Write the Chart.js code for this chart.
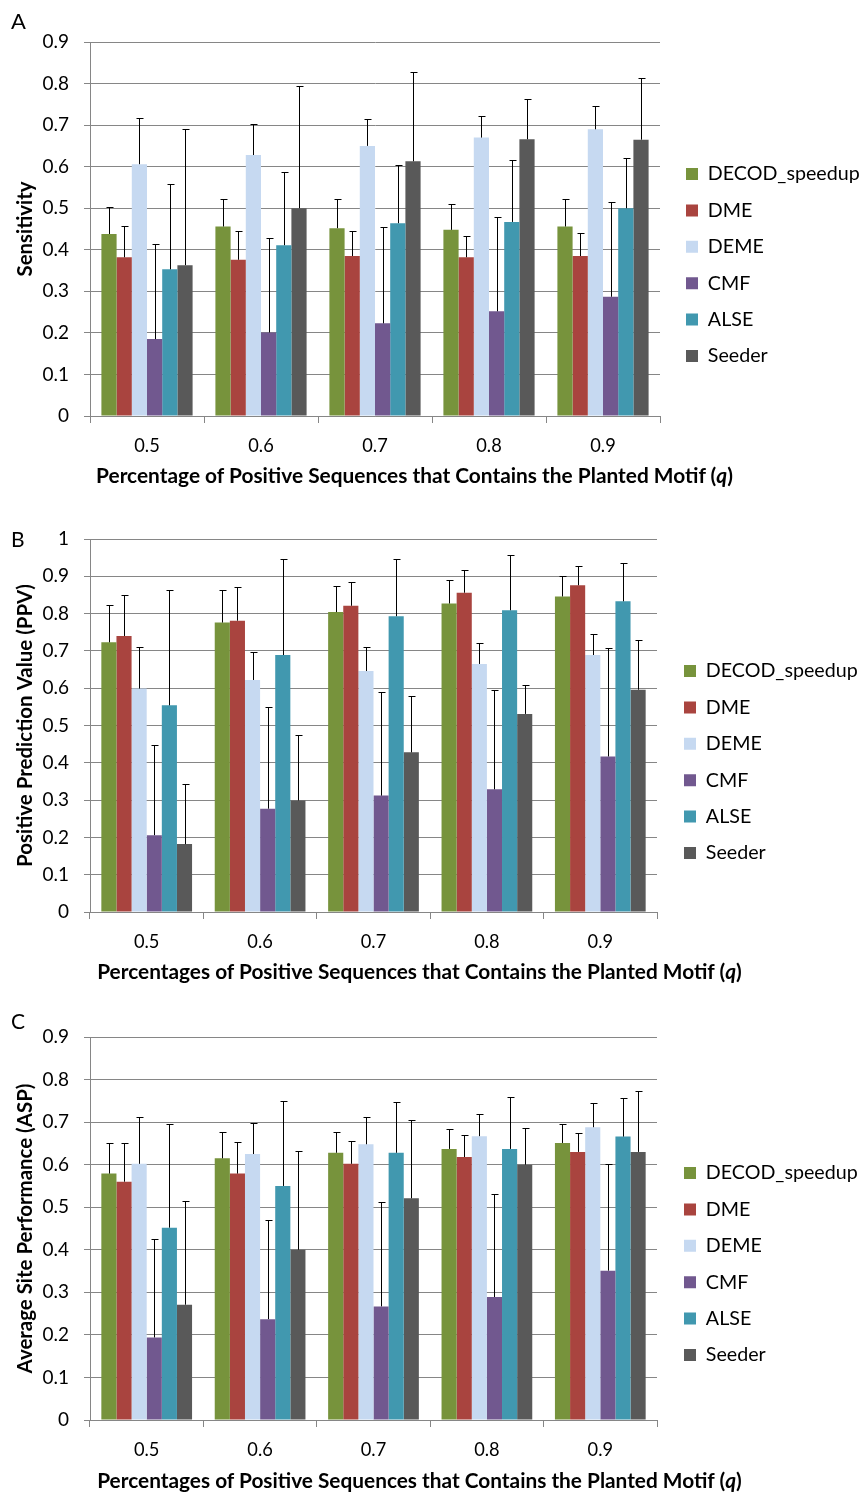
<!DOCTYPE html>
<html>
<head>
<meta charset="utf-8">
<script src="https://cdn.jsdelivr.net/npm/chart.js@4.4.1/dist/chart.umd.min.js"></script>
<style>
html,body{margin:0;padding:0;background:#fff;}
body{width:863px;height:1494px;position:relative;overflow:hidden;font-family:Lato,sans-serif;color:#000;}
.panel{position:absolute;left:0;width:863px;}
.panel canvas{display:block;}
.lbl{position:absolute;white-space:nowrap;line-height:1.2;width:max-content;font-family:Lato,sans-serif;color:#000;}
</style>
</head>
<body>
<div class="panel" style="top:0px;height:500px"><canvas id="cA" width="863" height="500" style="width:863px;height:500px"></canvas></div>
<div class="panel" style="top:500px;height:495px"><canvas id="cB" width="863" height="495" style="width:863px;height:495px"></canvas></div>
<div class="panel" style="top:995px;height:499px"><canvas id="cC" width="863" height="499" style="width:863px;height:499px"></canvas></div>
<script>
// ---------------- DATA ----------------
const categories = ['0.5', '0.6', '0.7', '0.8', '0.9'];
const seriesNames = ['DECOD_speedup', 'DME', 'DEME', 'CMF', 'ALSE', 'Seeder'];

// Panel A: Sensitivity (rows = series, columns = categories)
const sensitivityValues = [
  [0.438, 0.456, 0.452, 0.448, 0.456],
  [0.382, 0.376, 0.385, 0.382, 0.385],
  [0.606, 0.628, 0.650, 0.670, 0.690],
  [0.185, 0.201, 0.223, 0.252, 0.287],
  [0.353, 0.411, 0.464, 0.467, 0.500],
  [0.363, 0.500, 0.613, 0.666, 0.665]
];
const sensitivityErrors = [
  [0.066, 0.067, 0.069, 0.062, 0.066],
  [0.076, 0.068, 0.061, 0.052, 0.055],
  [0.111, 0.074, 0.064, 0.053, 0.057],
  [0.229, 0.227, 0.232, 0.227, 0.229],
  [0.205, 0.175, 0.139, 0.148, 0.121],
  [0.327, 0.294, 0.216, 0.097, 0.149]
];

// Panel B: Positive Prediction Value
const ppvValues = [
  [0.723, 0.776, 0.804, 0.827, 0.846],
  [0.740, 0.781, 0.821, 0.856, 0.876],
  [0.599, 0.622, 0.646, 0.665, 0.689],
  [0.206, 0.277, 0.312, 0.329, 0.417],
  [0.554, 0.689, 0.793, 0.809, 0.833],
  [0.182, 0.299, 0.428, 0.531, 0.596]
];
const ppvErrors = [
  [0.101, 0.087, 0.071, 0.062, 0.055],
  [0.109, 0.091, 0.063, 0.060, 0.051],
  [0.111, 0.075, 0.064, 0.055, 0.055],
  [0.242, 0.273, 0.279, 0.266, 0.290],
  [0.309, 0.258, 0.153, 0.149, 0.103],
  [0.162, 0.176, 0.150, 0.077, 0.134]
];

// Panel C: Average Site Performance
const aspValues = [
  [0.579, 0.615, 0.628, 0.637, 0.651],
  [0.560, 0.579, 0.602, 0.618, 0.630],
  [0.602, 0.625, 0.648, 0.667, 0.688],
  [0.194, 0.237, 0.267, 0.289, 0.351],
  [0.452, 0.550, 0.628, 0.637, 0.666],
  [0.271, 0.400, 0.521, 0.600, 0.630]
];
const aspErrors = [
  [0.072, 0.061, 0.049, 0.047, 0.045],
  [0.090, 0.075, 0.054, 0.051, 0.045],
  [0.111, 0.074, 0.064, 0.053, 0.058],
  [0.232, 0.233, 0.246, 0.243, 0.251],
  [0.243, 0.199, 0.119, 0.123, 0.091],
  [0.244, 0.233, 0.183, 0.085, 0.143]
];

const yTicksA = ['0', '0.1', '0.2', '0.3', '0.4', '0.5', '0.6', '0.7', '0.8', '0.9'];
const yTicksB = ['0', '0.1', '0.2', '0.3', '0.4', '0.5', '0.6', '0.7', '0.8', '0.9', '1'];
const yTicksC = ['0', '0.1', '0.2', '0.3', '0.4', '0.5', '0.6', '0.7', '0.8', '0.9'];

// ---------------- STYLE ----------------
const seriesColors = ['#77933C', '#A9443F', '#C6D9F1', '#71588F', '#4198AF', '#595959'];
const GREY = '#868686';

const mctx = document.createElement('canvas').getContext('2d');
function fitSize(text, weight, target) {
  mctx.font = weight + ' 100px Lato';
  return 100 * target / mctx.measureText(text).width;
}

const errorBars = {
  id: 'errorBars',
  afterDatasetsDraw(chart) {
    const ctx = chart.ctx;
    const ys = chart.scales.y;
    ctx.save();
    ctx.strokeStyle = '#000';
    ctx.lineWidth = 1;
    chart.data.datasets.forEach((ds, i) => {
      const meta = chart.getDatasetMeta(i);
      meta.data.forEach((bar, j) => {
        const topPx = Math.round(ys.getPixelForValue(ds.data[j] + ds.errors[j])) + 0.5;
        const x = Math.round(bar.x) + 0.5;
        ctx.beginPath();
        ctx.moveTo(x, bar.y);
        ctx.lineTo(x, topPx);
        ctx.moveTo(x - 3, topPx);
        ctx.lineTo(x + 4, topPx);
        ctx.stroke();
      });
    });
    ctx.restore();
  }
};

const legendPlace = {
  id: 'legendPlace',
  afterLayout(chart, args, o) {
    const L = chart.legend;
    if (!L || o.boxX == null) return;
    L.left = o.boxX - o.pad;
    L.right = L.left + L.width;
    L.top = o.center - o.itemHeight / 2 - o.pad;
    L.bottom = L.top + L.height;
  }
};

function makePanel(p) {
  const tickSize = fitSize('0.9', 'normal', 26.5);
  const catSize = fitSize('0.5', 'normal', 25.5);
  const legSize = fitSize('DECOD_speedup', 'normal', 152);
  const yTitleSize = fitSize(p.yTitle, 'bold', p.yTitleWidth);
  const legPad = 36.4 - legSize;
  const chart = new Chart(document.getElementById(p.id), {
    type: 'bar',
    data: {
      labels: categories,
      datasets: seriesNames.map((n, i) => ({
        label: n,
        data: p.values[i],
        errors: p.errors[i],
        backgroundColor: seriesColors[i],
        borderWidth: 0,
        categoryPercentage: 0.8,
        barPercentage: 1.0
      }))
    },
    options: {
      responsive: false,
      animation: false,
      devicePixelRatio: 1,
      font: {family: 'Lato'},
      layout: {padding: {left: 0, top: p.top, right: 0, bottom: p.h - p.bottom - 40}},
      scales: {
        x: {
          grid: {display: true, drawOnChartArea: false, drawTicks: true, tickLength: 7, color: GREY, offset: true},
          border: {display: true, color: GREY},
          ticks: {font: {family: 'Lato', size: catSize}, color: '#000', padding: 12},
          afterFit(s) { s.height = 40; }
        },
        y: {
          min: 0,
          max: p.yMax,
          ticks: {stepSize: 0.1, font: {family: 'Lato', size: tickSize}, color: '#000', padding: 15,
                  callback: (v, i) => p.yTicks[i]},
          grid: {color: GREY, tickLength: 6},
          border: {display: true, color: GREY},
          title: {display: true, text: p.yTitle, color: '#000',
                  font: {family: 'Lato', size: yTitleSize, weight: 'bold'},
                  padding: {top: 25 - yTitleSize * 0.6, bottom: 0}},
          afterFit(s) { s.width = 90; }
        }
      },
      plugins: {
        legend: {
          position: 'right', align: 'start',
          labels: {boxWidth: 12, boxHeight: 12, padding: legPad, color: '#000',
                   font: {family: 'Lato', size: legSize}}
        },
        tooltip: {enabled: false},
        legendPlace: {boxX: p.legBoxX, center: p.legCenter, pad: legPad, itemHeight: Math.max(legSize, 12)}
      }
    },
    plugins: [errorBars, legendPlace]
  });
  const padR = 863 - p.right - chart.legend.width;
  if (padR >= 0) {
    chart.options.layout.padding.right = padR;
  } else {
    chart.options.plugins.legend.maxWidth = 863 - p.right;
  }
  chart.update();
  return chart;
}

makePanel({id: 'cA', values: sensitivityValues, errors: sensitivityErrors, yMax: 0.9, yTicks: yTicksA,
  yTitle: 'Sensitivity', yTitleWidth: 95, top: 42, bottom: 416, h: 500, right: 660,
  legBoxX: 686, legCenter: 174});
makePanel({id: 'cB', values: ppvValues, errors: ppvErrors, yMax: 1, yTicks: yTicksB,
  yTitle: 'Positive Prediction Value (PPV)', yTitleWidth: 283, top: 39, bottom: 412, h: 495, right: 657,
  legBoxX: 684, legCenter: 171});
makePanel({id: 'cC', values: aspValues, errors: aspErrors, yMax: 0.9, yTicks: yTicksC,
  yTitle: 'Average Site Performance (ASP)', yTitleWidth: 290, top: 42, bottom: 425, h: 499, right: 657,
  legBoxX: 684, legCenter: 178});

// ---------------- HTML TEXT ----------------
function placeText(html, weight, targetW, size, x, baseY, centered) {
  const el = document.createElement('div');
  el.className = 'lbl';
  el.style.fontWeight = weight;
  el.innerHTML = html;
  el.style.fontSize = '100px';
  document.body.appendChild(el);
  let fs = size;
  if (targetW) fs = 100 * targetW / el.getBoundingClientRect().width;
  el.style.fontSize = fs + 'px';
  const m = document.createElement('span');
  m.style.cssText = 'display:inline-block;width:0;height:0;vertical-align:baseline;';
  el.appendChild(m);
  const b = m.offsetTop;
  const w = el.getBoundingClientRect().width;
  el.style.top = (baseY - b) + 'px';
  el.style.left = (centered ? x - w / 2 : x) + 'px';
}

placeText('A', 'normal', 0, 22, 11, 29, false);
placeText('B', 'normal', 0, 21, 11, 547, false);
placeText('C', 'normal', 0, 21, 11, 1029, false);
placeText('Percentage of Positive Sequences that Contains the Planted Motif (<i>q</i>)', 'bold', 637, 0, 414.5, 482.5, true);
placeText('Percentages of Positive Sequences that Contains the Planted Motif (<i>q</i>)', 'bold', 645, 0, 419.5, 978.5, true);
placeText('Percentages of Positive Sequences that Contains the Planted Motif (<i>q</i>)', 'bold', 645, 0, 419.5, 1487.5, true);
</script>
</body>
</html>
